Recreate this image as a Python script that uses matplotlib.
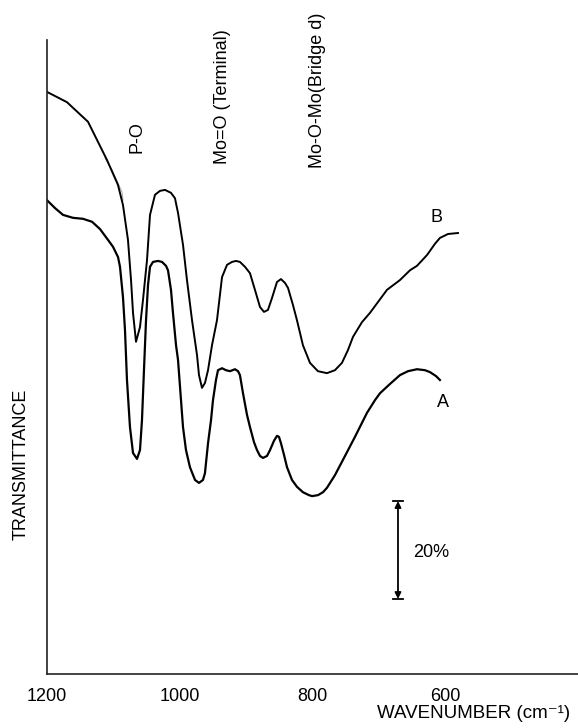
import matplotlib
matplotlib.use("Agg")
import matplotlib.pyplot as plt

plt.rcParams['font.family'] = ['Liberation Sans', 'DejaVu Sans']

# Spectrum B (upper trace): wavenumber (cm-1), transmittance (%)
b_wn = [1200, 1169.9, 1138.2, 1109.6, 1093.0, 1085.5, 1078.0, 1073.4, 1070.4, 1065.9,
        1059.9, 1055.4, 1049.3, 1044.8, 1037.3, 1029.8, 1022.2, 1013.2, 1007.2, 1002.6,
        995.1, 989.1, 981.5, 974.0, 971.0, 966.5, 962.0, 957.4, 951.4, 943.9,
        936.3, 928.8, 921.3, 915.3, 909.3, 901.7, 894.2, 886.7, 879.1, 873.1,
        867.1, 861.1, 853.5, 847.5, 841.4, 836.9, 829.4, 823.4, 814.4, 803.8,
        791.8, 778.2, 766.2, 755.6, 746.6, 739.0, 725.5, 713.4, 687.8, 668.2,
        653.1, 642.6, 627.5, 615.5, 608.0, 595.9, 580.8]
b_t = [118.8, 116.7, 112.7, 104.9, 99.8, 95.7, 88.6, 80.4, 73.7, 67.8,
       70.8, 76.3, 84.5, 93.7, 97.8, 98.6, 98.8, 98.2, 97.1, 94.1,
       87.6, 80.4, 72.2, 65.1, 61.0, 58.4, 59.4, 62.0, 67.1, 72.2,
       81.0, 83.5, 84.1, 84.3, 84.1, 83.1, 81.8, 78.4, 74.9, 73.9,
       74.3, 76.7, 80.0, 80.6, 79.8, 78.8, 75.3, 72.2, 67.1, 63.5,
       61.8, 61.4, 62.0, 63.5, 66.1, 68.8, 71.8, 73.7, 78.4, 80.4,
       82.4, 83.3, 85.5, 87.8, 89.0, 89.8, 90.0]

# Faint duplicate trace near B shoulder
g_wn = [1112.6, 1102.1, 1093.0, 1087.0, 1085.5]
g_t = [105.3, 102.9, 100.2, 98.4, 96.7]

# Spectrum A (lower trace)
a_wn = [1200, 1188.0, 1175.9, 1160.8, 1145.8, 1132.2, 1120.1, 1108.1, 1100.6, 1093.0,
        1090.0, 1085.5, 1082.5, 1079.5, 1075.0, 1070.4, 1064.4, 1059.9, 1056.9, 1053.9,
        1050.8, 1047.8, 1044.8, 1040.3, 1032.8, 1026.7, 1020.7, 1017.7, 1013.2, 1010.2,
        1005.6, 1002.6, 995.1, 990.6, 984.6, 977.0, 971.0, 965.0, 962.0, 957.4,
        952.9, 949.9, 945.4, 942.4, 936.3, 930.3, 924.3, 916.8, 912.2, 909.3,
        904.7, 898.7, 894.2, 888.1, 883.6, 879.1, 874.6, 868.5, 864.0, 858.0,
        853.5, 850.5, 847.5, 842.9, 838.4, 830.9, 823.4, 814.4, 805.3, 800.7,
        791.7, 784.2, 778.2, 766.1, 754.1, 736.0, 717.9, 705.8, 698.3, 683.2,
        668.2, 656.1, 642.6, 630.5, 622.9, 613.9, 608.0]
a_t = [96.7, 95.1, 93.7, 93.1, 92.9, 92.3, 90.8, 88.6, 87.2, 85.1,
       83.1, 76.9, 70.2, 60.0, 50.4, 45.1, 43.9, 45.7, 51.8, 62.0,
       72.2, 79.4, 83.1, 84.1, 84.3, 84.1, 83.3, 82.4, 78.4, 73.7,
       67.1, 64.1, 50.4, 45.7, 42.2, 39.6, 39.0, 39.6, 41.0, 47.1,
       51.8, 55.9, 60.0, 62.0, 62.4, 62.0, 61.8, 62.2, 61.8, 61.0,
       57.3, 52.9, 50.4, 47.3, 45.7, 44.5, 44.1, 44.5, 45.7, 47.6,
       48.6, 48.4, 47.1, 44.7, 42.2, 39.6, 38.2, 37.1, 36.5, 36.3,
       36.5, 37.1, 38.0, 40.6, 43.7, 48.4, 53.3, 55.9, 57.3, 59.2,
       61.0, 61.8, 62.2, 62.0, 61.6, 60.8, 60.0]

x_ticks = [1200, 1000, 800, 600]
band_labels = ["P-O", "Mo=O (Terminal)", "Mo-O-Mo(Bridge d)"]
band_pos = [1064.4, 936.3, 793.2]
band_y = [109.6, 117.8, 119.2]

fig = plt.figure(figsize=(5.78, 7.28), dpi=100)
ax = fig.add_axes([0.0813, 0.0742, 0.9187, 0.8709])

ax.plot(g_wn, g_t, color='#aaaaaa', lw=0.7)
ax.plot(b_wn, b_t, color='black', lw=1.4)
ax.plot(a_wn, a_t, color='black', lw=1.6)

ax.set_xlim(1200, 400)
ax.set_ylim(0, 129.4)

for s in ['top', 'right']:
    ax.spines[s].set_visible(False)
for s in ['left', 'bottom']:
    ax.spines[s].set_linewidth(1.2)
    ax.spines[s].set_color('#222222')

ax.set_xticks(x_ticks)
ax.set_xticklabels([str(v) for v in x_ticks], fontsize=13)
ax.tick_params(axis='x', length=0, pad=10)
ax.set_yticks([])

ax.set_xlabel("WAVENUMBER (cm\u207b\u00b9)", fontsize=13.5)
ax.xaxis.set_label_coords(0.803, -0.062)
ax.xaxis.label.set_va('center')
ax.set_ylabel("TRANSMITTANCE", fontsize=13)
ax.yaxis.set_label_coords(-0.049, 0.33)
ax.yaxis.label.set_va('center')

for lab, xp, yp in zip(band_labels, band_pos, band_y):
    ax.text(xp, yp, lab, rotation=90, ha='center', va='center', fontsize=13, clip_on=False)

ax.text(613.9, 93.1, "B", ha='center', va='center', fontsize=13)
ax.text(603.4, 55.5, "A", ha='center', va='center', fontsize=13)

# 20% scale bar
bar_x = 671.2
bar_lo, bar_hi = 15.3, 35.3
ax.annotate("", xy=(bar_x, bar_hi), xytext=(bar_x, bar_lo),
            arrowprops=dict(arrowstyle='<|-|>', color='black', lw=1.3,
                            mutation_scale=9, shrinkA=0, shrinkB=0))
ax.plot([bar_x - 7, bar_x + 7], [bar_hi, bar_hi], color='black', lw=1.3)
ax.plot([bar_x - 7, bar_x + 7], [bar_lo, bar_lo], color='black', lw=1.3)
ax.text(648.6, 24.7, "20%", ha='left', va='center', fontsize=13)

fig.savefig("out.png", dpi=100)
